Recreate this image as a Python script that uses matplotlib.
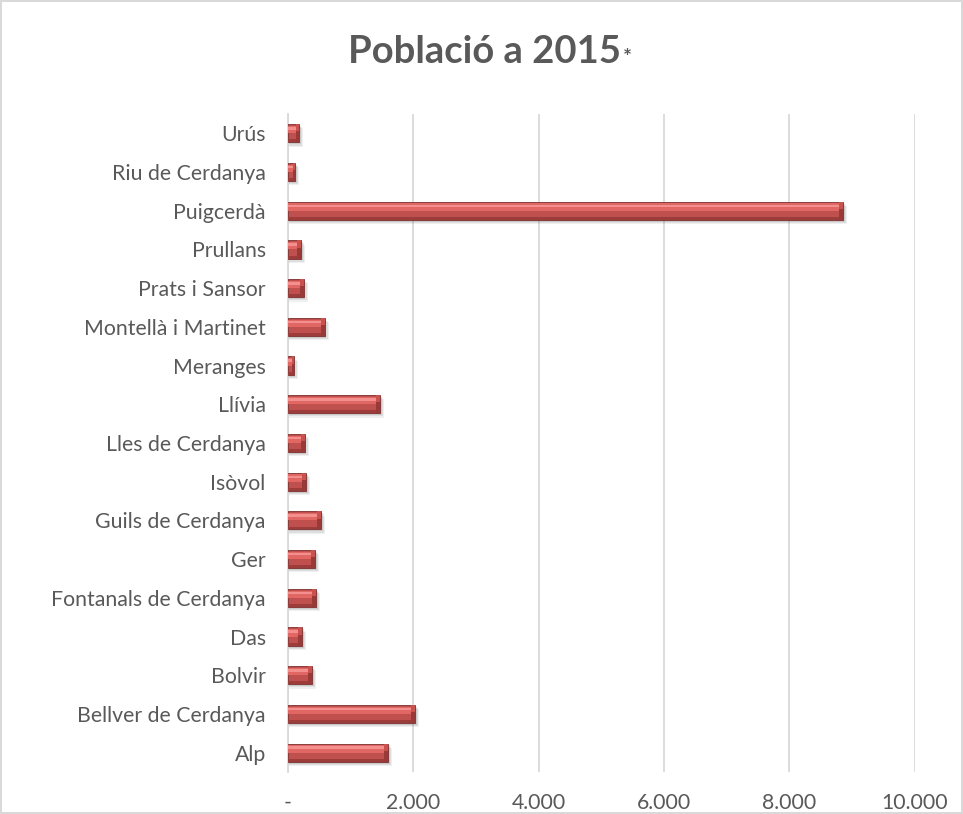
import matplotlib
matplotlib.use("Agg")
import matplotlib.pyplot as plt
from matplotlib.patches import Rectangle

# municipalities of Cerdanya, bottom to top as drawn
municipis = ["Alp", "Bellver de Cerdanya", "Bolvir", "Das", "Fontanals de Cerdanya",
             "Ger", "Guils de Cerdanya", "Isòvol", "Lles de Cerdanya", "Llívia",
             "Meranges", "Montellà i Martinet", "Prats i Sansor", "Prullans",
             "Puigcerdà", "Riu de Cerdanya", "Urús"]
poblacio = [1593, 2024, 378, 219, 447, 431, 527, 283, 265, 1470,
            90, 585, 250, 210, 8850, 107, 180]
xticks = [0, 2000, 4000, 6000, 8000, 10000]
xticklabels = ["-", "2.000", "4.000", "6.000", "8.000", "10.000"]

plt.rcParams["font.family"] = ["Lato", "DejaVu Sans"]
grey = "#595959"
red = "#C0504D"

fig = plt.figure(figsize=(9.63, 8.14), dpi=100)
fig.patch.set_edgecolor("#D9D9D9")
fig.patch.set_linewidth(1.5)
ax = fig.add_axes([0.299, 0.0516, 0.651, 0.8084])

y = list(range(len(municipis)))
h = 0.47

# soft shadow
for k, a in [(0.11, 0.08), (0.08, 0.10), (0.05, 0.13)]:
    ax.barh([v - k for v in y], [p + k * 600 for p in poblacio], height=h,
            color="#404040", alpha=a, zorder=2, linewidth=0)
# main body
ax.barh(y, poblacio, height=h, color=red, zorder=3, linewidth=0.6, edgecolor="#7A2E2C")
# top light band
ax.barh([v + h * 0.20 for v in y], poblacio, height=h * 0.40, color="#E06764",
        zorder=4, linewidth=0)
ax.barh([v + h * 0.27 for v in y], poblacio, height=h * 0.14, color="#F3908D",
        zorder=5, linewidth=0)
# bottom dark band
ax.barh([v - h * 0.42 for v in y], poblacio, height=h * 0.16, color="#9C3D3B",
        zorder=4, linewidth=0)
# bevel at bar end
for yi, p in zip(y, poblacio):
    w = min(60, p * 0.3)
    ax.add_patch(Rectangle((p - w, yi - h / 2), w, h, color="#9A3A38", zorder=6, linewidth=0))
    ax.add_patch(Rectangle((p - w, yi + h * 0.1), w, h * 0.4, color="#C9524F",
                           zorder=6, linewidth=0))

ax.set_xlim(0, 10000)
ax.set_ylim(-0.5, len(municipis) - 0.5)
ax.set_xticks(xticks)
ax.set_xticklabels(xticklabels)
ax.set_yticks(y)
ax.set_yticklabels(municipis)
ax.tick_params(axis="both", length=0, labelsize=15.3, colors=grey)
ax.tick_params(axis="x", pad=15)
ax.tick_params(axis="y", pad=16)
ax.grid(axis="x", color="#D9D9D9", linewidth=1.3, zorder=0)
ax.set_axisbelow(True)
for s in ["top", "right", "bottom"]:
    ax.spines[s].set_visible(False)
ax.spines["left"].set_color("#D9D9D9")
ax.spines["left"].set_linewidth(1.3)

title = fig.text(0.3614, 0.936, "Població a 2015", ha="left", va="center",
                 fontsize=27.5, fontweight="bold", color=grey)
fig.canvas.draw()
bb = title.get_window_extent().transformed(fig.transFigure.inverted())
fig.text(bb.x1 + 0.002, 0.929, "*", ha="left", va="center", fontsize=15,
         fontweight="bold", color=grey)

fig.savefig("out.png", dpi=100)
